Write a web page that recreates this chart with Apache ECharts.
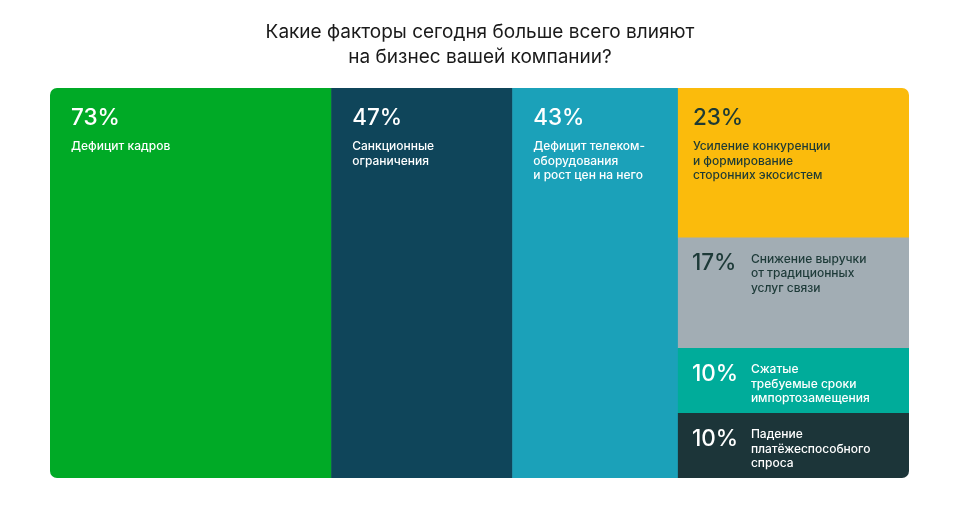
<!DOCTYPE html>
<html>
<head>
<meta charset="utf-8">
<script src="https://cdn.jsdelivr.net/npm/echarts@6/dist/echarts.min.js"></script>
<style>
  html, body { margin: 0; padding: 0; background: #ffffff; }
  #chart { width: 960px; height: 526px; }
</style>
</head>
<body>
<div id="chart"></div>
<script>
// ---- data ----
const titleText = 'Какие факторы сегодня больше всего влияют\nна бизнес вашей компании?';
const factors = [
  'Дефицит кадров',
  'Санкционные\nограничения',
  'Дефицит телеком-\nоборудования\nи рост цен на него',
  'Усиление конкуренции\nи формирование\nсторонних экосистем',
  'Снижение выручки\nот традиционных\nуслуг связи',
  'Сжатые\nтребуемые сроки\nимпортозамещения',
  'Падение\nплатёжеспособного\nспроса'
];
const shares = [73, 47, 43, 23, 17, 10, 10];
const column = [0, 1, 2, 3, 3, 3, 3];

// ---- styles ----
const fills = ['#00aa26', '#0f455a', '#1ba1b9', '#fbbb0c', '#a2adb4', '#00ac9a', '#1c3539'];
const textColors = ['#ffffff', '#ffffff', '#ffffff', '#1d3a35', '#1d3a38', '#ffffff', '#ffffff'];
const FONT = 'Inter, "Noto Sans", sans-serif';

// ---- layout built from values (slice-and-dice) ----
const total = shares.reduce((a, b) => a + b, 0);
const nCols = Math.max(...column) + 1;
const colSum = Array(nCols).fill(0);
shares.forEach((v, i) => { colSum[column[i]] += v; });
const colStart = [];
let acc = 0;
for (let c = 0; c < nCols; c++) { colStart.push(acc); acc += colSum[c]; }
const inColAcc = Array(nCols).fill(0);
const cells = shares.map((v, i) => {
  const c = column[i];
  const y0 = inColAcc[c] / colSum[c];
  inColAcc[c] += v;
  const y1 = inColAcc[c] / colSum[c];
  return [colStart[c], colStart[c] + colSum[c], y0, y1, i];
});

function renderItem(params, api) {
  const x0 = api.value(0), x1 = api.value(1), y0 = api.value(2), y1 = api.value(3);
  const i = api.value(4);
  const p0 = api.coord([x0, y0]);
  const p1 = api.coord([x1, y1]);
  const w = p1[0] - p0[0];
  const h = p1[1] - p0[1];
  const R = 7;
  const left = x0 === 0, right = x1 === total, top = y0 === 0, bottom = y1 === 1;
  const r = [left && top ? R : 0, right && top ? R : 0, right && bottom ? R : 0, left && bottom ? R : 0];
  const tc = textColors[i];
  const children = [{
    type: 'rect',
    shape: { x: p0[0], y: p0[1], width: w + (right ? 0 : 0.6), height: h + (bottom ? 0 : 0.6), r: r },
    style: { fill: fills[i] }
  }];
  const inline = h < 120;
  const pad = right ? 15 : 21;
  if (!inline) {
    children.push({
      type: 'text', x: p0[0] + pad, y: p0[1] + 30,
      style: { text: shares[i] + '%', fill: tc, font: '500 22.5px ' + FONT, verticalAlign: 'middle', align: 'left' }
    });
    children.push({
      type: 'text', x: p0[0] + pad, y: p0[1] + 51.5,
      style: { text: factors[i], fill: tc, font: '500 12px ' + FONT, lineHeight: 14.5, verticalAlign: 'top', align: 'left' }
    });
  } else {
    children.push({
      type: 'text', x: p0[0] + 14, y: p0[1] + 26,
      style: { text: shares[i] + '%', fill: tc, font: '500 22.5px ' + FONT, verticalAlign: 'middle', align: 'left' }
    });
    children.push({
      type: 'text', x: p0[0] + 73, y: p0[1] + 14.5,
      style: { text: factors[i], fill: tc, font: '500 12px ' + FONT, lineHeight: 14.5, verticalAlign: 'top', align: 'left' }
    });
  }
  return { type: 'group', children: children };
}

const chart = echarts.init(document.getElementById('chart'), null, { renderer: 'canvas' });
chart.setOption({
  animation: false,
  backgroundColor: '#ffffff',
  graphic: [{
    type: 'text',
    x: 480,
    y: 20,
    style: {
      text: titleText,
      align: 'center',
      verticalAlign: 'top',
      font: '400 19px ' + FONT,
      lineHeight: 25,
      fill: '#1a1a1a'
    }
  }],
  grid: { left: 50, right: 51, top: 88, bottom: 48 },
  xAxis: { type: 'value', min: 0, max: total, show: false },
  yAxis: { type: 'value', min: 0, max: 1, inverse: true, show: false },
  series: [{
    type: 'custom',
    renderItem: renderItem,
    data: cells,
    clip: false
  }]
});
</script>
</body>
</html>
